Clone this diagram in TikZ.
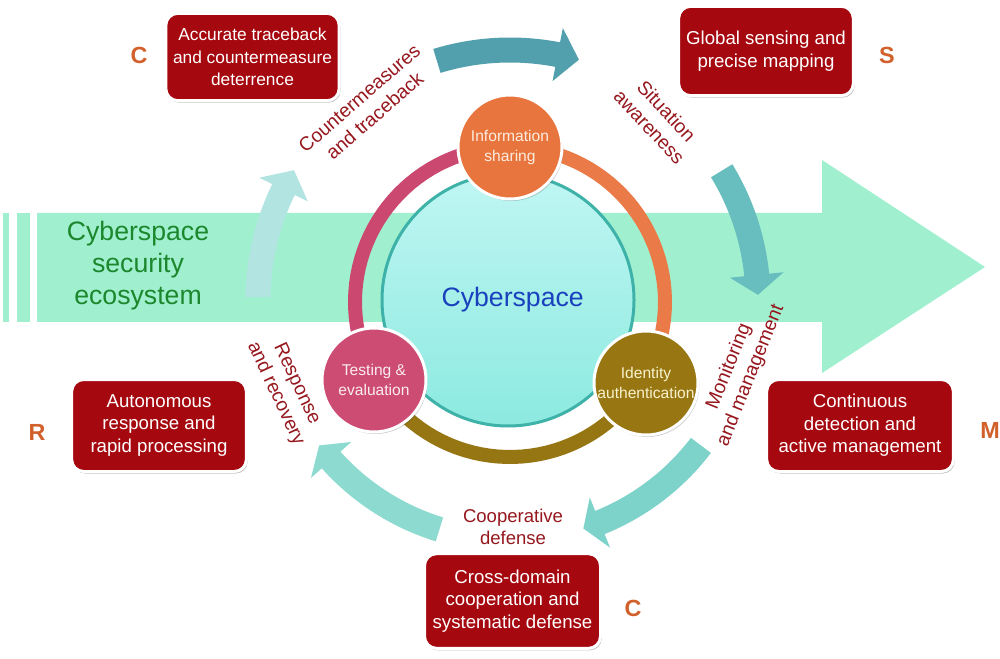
\documentclass[tikz,border=0pt]{standalone}
\usepackage{fontspec}
\setmainfont{Liberation Sans}
\usetikzlibrary{shadows}
\definecolor{bandgreen}{RGB}{160,240,208}
\definecolor{arA}{RGB}{82,160,174}
\definecolor{arB}{RGB}{104,190,190}
\definecolor{arC}{RGB}{125,210,202}
\definecolor{arD}{RGB}{140,218,208}
\definecolor{arE}{RGB}{178,228,226}
\definecolor{ringO}{RGB}{234,122,72}
\definecolor{ringM}{RGB}{203,72,112}
\definecolor{ringY}{RGB}{150,118,18}
\definecolor{infoC}{RGB}{232,117,62}
\definecolor{testC}{RGB}{205,76,116}
\definecolor{identC}{RGB}{152,119,18}
\definecolor{coreTop}{RGB}{192,246,243}
\definecolor{coreBot}{RGB}{140,234,224}
\definecolor{coreLine}{RGB}{62,178,168}
\definecolor{coreText}{RGB}{25,65,190}
\definecolor{boxRed}{RGB}{165,8,14}
\definecolor{labelRed}{RGB}{150,24,30}
\definecolor{letterOr}{RGB}{210,96,42}
\definecolor{ecoGreen}{RGB}{28,135,45}
\newcommand\tealarrow[5]{%
  \fill[#1] plot[domain=#2:#3,samples=30] (\x:{#5+12.5}) -- (#3:{#5+27}) -- (#4:#5)
    -- (#3:{#5-27}) -- plot[domain=#3:#2,samples=30] (\x:{#5-12.5}) -- cycle;}
\begin{document}
\begin{tikzpicture}[x=0.75pt,y=0.75pt,
  redbox/.style={rounded corners=9pt, fill=boxRed, draw=white, line width=2.25pt,
    text=white, align=center, font=\fontsize{14}{17}\selectfont, inner sep=0pt,
    drop shadow={shadow xshift=1pt, shadow yshift=-1.5pt, fill=black, opacity=0.25}},
  smallcirc/.style={circle, draw=white, line width=2.25pt, minimum size=78pt, inner sep=0pt,
    align=center, font=\fontsize{11.7}{15}\selectfont,
    drop shadow={shadow xshift=1pt, shadow yshift=-1.5pt, fill=black, opacity=0.2}},
  steplabel/.style={text=labelRed, align=center, font=\fontsize{14.5}{17.5}\selectfont, inner sep=0pt},
  letter/.style={text=letterOr, font=\fontsize{17.5}{20}\selectfont\bfseries, inner sep=0pt}]
\useasboundingbox (0,0) rectangle (1000,658);
\fill[white] (0,0) rectangle (1000,658);
% big band arrow
\fill[bandgreen] (3,336) rectangle (9,445);
\fill[bandgreen] (17,336) rectangle (30,445);
\fill[bandgreen] (37,336) -- (822,336) -- (822,285) -- (985,391) -- (822,498) -- (822,445) -- (37,445) -- cycle;
% curved teal arrows
\begin{scope}[shift={(510,358)}]
  \tealarrow{arA}{107}{79}{74}{250}
  \tealarrow{arB}{31.4}{5.8}{1.2}{248}
  \tealarrow{arC}{-37.3}{-68}{-72.2}{240}
  \tealarrow{arD}{252.9}{221.8}{217.3}{240}
  \tealarrow{arE}{179.3}{154}{149}{252}
\end{scope}
% ring
\begin{scope}[shift={(510,356)}]
  \draw[ringO, line width=10.5pt] plot[domain=90:-30,samples=40] (\x:155);
  \draw[ringY, line width=10.5pt] plot[domain=-30:-150,samples=40] (\x:155);
  \draw[ringM, line width=10.5pt] plot[domain=210:90,samples=40] (\x:155);
\end{scope}
% core
\node[circle, minimum size=189pt, inner sep=0pt, top color=coreTop, bottom color=coreBot,
  draw=coreLine, line width=2.25pt, text=coreText, font=\fontsize{20}{24}\selectfont] (core) at (508,358) {\hspace*{7pt}Cyberspace};
% small circles
\node[smallcirc, fill=infoC, text={rgb,255:red,252;green,236;blue,222}] (info) at (510,511) {Information\\sharing};
\node[smallcirc, fill=testC, text={rgb,255:red,252;green,236;blue,242}] (test) at (374,278) {Testing \&\\evaluation};
\node[smallcirc, fill=identC, text={rgb,255:red,248;green,242;blue,205}] (ident) at (646,275) {Identity\\authentication};
% left text
\node[text=ecoGreen, align=center, font=\fontsize{20}{24}\selectfont] (eco) at (138,392) {Cyberspace\\security\\ecosystem};
% red boxes
\node[redbox, minimum width=130pt, minimum height=65.5pt, font=\fontsize{13}{17}\selectfont] (boxC1) at (252.5,601) {Accurate traceback\\and countermeasure\\deterrence};
\node[redbox, minimum width=131pt, minimum height=67pt] (boxS) at (766,607) {Global sensing and\\precise mapping};
\node[redbox, minimum width=140pt, minimum height=69pt] (boxM) at (860,232.5) {Continuous\\detection and\\active management};
\node[redbox, minimum width=131pt, minimum height=69pt] (boxR) at (159,232.5) {Autonomous\\response and\\rapid processing};
\node[redbox, minimum width=132pt, minimum height=71pt] (boxC2) at (512.5,57) {Cross-domain\\cooperation and\\systematic defense};
% letters
\node[letter] (LC1) at (139,603) {C};
\node[letter] (LS) at (887,603) {S};
\node[letter] (LM) at (990,228) {M};
\node[letter] (LR) at (37,226) {R};
\node[letter] (LC2) at (633,50) {C};
% step labels
\node[steplabel, rotate=41] (lcm) at (367,551) {Countermeasures\\and traceback};
\node[steplabel, rotate=-47] (lsa) at (658,539) {Situation\\awareness};
\node[steplabel, rotate=68] (lmm) at (740,287) {Monitoring\\and management};
\node[steplabel, rotate=-65] (lrr) at (286,269) {Response\\and recovery};
\node[steplabel, font=\fontsize{13.9}{16}\selectfont] (lcd) at (513,131) {Cooperative\\defense};
\end{tikzpicture}
\end{document}
